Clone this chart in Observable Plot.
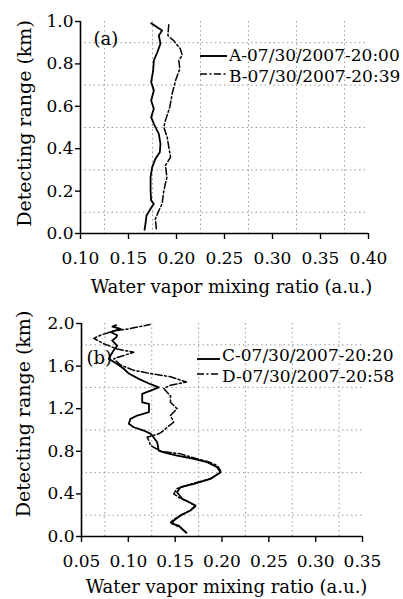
<!DOCTYPE html>
<html>
<head>
<meta charset="utf-8">
<script src="https://cdn.jsdelivr.net/npm/d3@7"></script>
<script src="https://cdn.jsdelivr.net/npm/@observablehq/plot@0.6"></script>
<style>
  body { margin: 0; background: #fff; }
  #chart svg { display: block; }
</style>
</head>
<body>
<div id="chart"></div>
<script>
// ---------- Panel (a) data ----------
const heightA = [0.017,0.046,0.085,0.117,0.140,0.156,0.203,0.266,0.313,0.352,0.383,0.423,0.470,0.517,0.549,0.588,0.627,0.675,0.714,0.769,0.816,0.855,0.895,0.934,0.958,0.992];
const ratioA  = [0.1667,0.1677,0.1688,0.1730,0.1764,0.1736,0.1730,0.1730,0.1747,0.1780,0.1826,0.1833,0.1816,0.1764,0.1736,0.1764,0.1736,0.1764,0.1736,0.1757,0.1764,0.1800,0.1833,0.1816,0.1850,0.1736];
const heightB = [0.022,0.069,0.108,0.140,0.203,0.266,0.321,0.360,0.407,0.454,0.501,0.533,0.596,0.659,0.722,0.777,0.816,0.840,0.871,0.910,0.934,0.989];
const ratioB  = [0.179,0.178,0.1816,0.185,0.1868,0.190,0.1885,0.1938,0.192,0.1903,0.1868,0.1885,0.193,0.1955,0.199,0.2035,0.2024,0.206,0.204,0.197,0.191,0.192];
const labelA = "A-07/30/2007-20:00";
const labelB = "B-07/30/2007-20:39";
const xTicksA = [0.10,0.15,0.20,0.25,0.30,0.35,0.40];
const yTicksA = [0.0,0.2,0.4,0.6,0.8,1.0];
const gridXA = [0.125,0.175,0.225,0.275,0.325,0.375];
const gridYA = [0.1,0.3,0.5,0.7,0.9];

// ---------- Panel (b) data ----------
const heightC = [0.035,0.072,0.103,0.120,0.150,0.197,0.244,0.291,0.354,0.416,0.463,0.495,0.541,0.604,0.650,0.698,0.730,0.760,0.790,0.807,0.885,0.930,0.964,0.995,1.026,1.058,1.105,1.136,1.167,1.245,1.260,1.340,1.370,1.400,1.430,1.480,1.530,1.575,1.620,1.670,1.700,1.750,1.790,1.820,1.840,1.870,1.890,1.920,1.950,1.970,1.985];
const ratioC  = [0.162,0.1575,0.1538,0.1468,0.1485,0.1557,0.1663,0.1717,0.1575,0.152,0.1557,0.170,0.1877,0.1984,0.1948,0.1841,0.170,0.152,0.1378,0.1325,0.1308,0.127,0.124,0.1165,0.1058,0.1005,0.1023,0.1095,0.122,0.122,0.1148,0.1148,0.1237,0.1325,0.1237,0.1112,0.1005,0.0952,0.0881,0.0792,0.081,0.0845,0.0881,0.0850,0.0828,0.0870,0.0881,0.081,0.0917,0.0830,0.0870];
const heightD = [0.040,0.080,0.130,0.150,0.200,0.244,0.280,0.320,0.360,0.400,0.450,0.495,0.541,0.600,0.620,0.667,0.700,0.730,0.776,0.800,0.854,0.900,0.932,0.964,0.995,1.026,1.073,1.136,1.200,1.260,1.320,1.390,1.420,1.450,1.500,1.530,1.560,1.610,1.670,1.700,1.730,1.760,1.810,1.860,1.890,1.930,1.950,1.990];
const ratioD  = [0.161,0.156,0.145,0.147,0.156,0.166,0.1717,0.166,0.155,0.1485,0.152,0.168,0.187,0.1984,0.1984,0.1948,0.186,0.173,0.1557,0.135,0.1237,0.122,0.120,0.1325,0.1378,0.1414,0.1485,0.145,0.152,0.145,0.145,0.1378,0.145,0.162,0.145,0.1237,0.1058,0.0917,0.0845,0.0952,0.1058,0.0881,0.0738,0.0632,0.0703,0.0845,0.1005,0.1230];
const labelC = "C-07/30/2007-20:20";
const labelD = "D-07/30/2007-20:58";
const xTicksB = [0.05,0.10,0.15,0.20,0.25,0.30,0.35];
const yTicksB = [0.0,0.4,0.8,1.2,1.6,2.0];
const gridXB = [0.075,0.125,0.175,0.225,0.275,0.325];
const gridYB = [0.2,0.6,1.0,1.4,1.8];

const xTitle = "Water vapor mixing ratio (a.u.)";
const yTitle = "Detecting range (km)";

const FONT = "'DejaVu Serif', serif";
const INK = "#000";
const DASH = "7,2.5,2,2.5";

const toRows = (hs, vs) => hs.map((h, i) => ({h, v: vs[i]}));

function panel(cfg) {
  const s1 = toRows(cfg.h1, cfg.v1);
  const s2 = toRows(cfg.h2, cfg.v2);
  const svg = Plot.plot({
    width: 403,
    height: cfg.height,
    marginLeft: cfg.ml, marginRight: cfg.mr, marginTop: cfg.mt, marginBottom: cfg.mb,
    style: {fontFamily: FONT, fontSize: "17px", color: INK, background: "#fff", overflow: "visible"},
    x: {domain: cfg.xDomain, label: null},
    y: {domain: cfg.yDomain, label: null},
    marks: [
      Plot.ruleX(cfg.gridX, {stroke: "#9a9a9a", strokeWidth: 1, strokeDasharray: "1.5,3"}),
      Plot.ruleY(cfg.gridY, {stroke: "#9a9a9a", strokeWidth: 1, strokeDasharray: "1.5,3"}),
      Plot.axisX({ticks: cfg.xTicks, tickFormat: d3.format(".2f"), tickSize: 6, tickPadding: 12,
                  fontSize: 17, label: null, stroke: INK, strokeWidth: 1.4}),
      Plot.axisY({ticks: cfg.yTicks, tickFormat: d3.format(".1f"), tickSize: 5, tickPadding: 2,
                  fontSize: 17, label: null, stroke: INK, strokeWidth: 1.4}),
      Plot.ruleX([cfg.xDomain[0]], {stroke: INK, strokeWidth: 1.6}),
      Plot.ruleY([cfg.yDomain[0]], {stroke: INK, strokeWidth: 1.6}),
      Plot.line(s2, {x: "v", y: "h", stroke: INK, strokeWidth: 1.5, strokeDasharray: DASH}),
      Plot.line(s1, {x: "v", y: "h", stroke: INK, strokeWidth: 1.8}),
      Plot.text([cfg.tag], {text: d => d, frameAnchor: "top-left", textAnchor: "start", lineAnchor: "middle",
                            dx: cfg.tagDx, dy: cfg.tagDy, fontSize: 18, fill: INK}),
      Plot.text([xTitle], {text: d => d, frameAnchor: "bottom", textAnchor: "middle", lineAnchor: "middle",
                           dx: cfg.xtDx, dy: cfg.xtDy, fontSize: 18, fill: INK}),
      Plot.text([yTitle], {text: d => d, frameAnchor: "left", textAnchor: "middle", lineAnchor: "middle",
                           rotate: -90, dx: cfg.ytDx, dy: cfg.ytDy, fontSize: 19, fill: INK})
    ]
  });
  // legend
  const g = d3.select(svg).append("g")
    .attr("font-family", FONT).attr("font-size", 17).attr("fill", INK)
    .attr("text-anchor", "start");
  cfg.legend.forEach((item, i) => {
    g.append("line")
      .attr("x1", cfg.legX0).attr("x2", cfg.legX1)
      .attr("y1", cfg.legLineY[i]).attr("y2", cfg.legLineY[i])
      .attr("stroke", INK).attr("stroke-width", item.dash ? 1.6 : 1.9)
      .attr("stroke-dasharray", item.dash ? DASH : null);
    g.append("text")
      .attr("x", cfg.legX1 + 2).attr("y", cfg.legTextY[i])
      .attr("dy", "0.35em")
      .attr("text-anchor", "start")
      .text(item.label);
  });
  return svg;
}

const root = document.getElementById("chart");
root.appendChild(panel({
  height: 300, ml: 80, mr: 35, mt: 21, mb: 67,
  xDomain: [0.10, 0.40], yDomain: [0, 1],
  xTicks: xTicksA, yTicks: yTicksA, gridX: gridXA, gridY: gridYA,
  h1: heightA, v1: ratioA, h2: heightB, v2: ratioB,
  tag: "(a)", tagDx: 13, tagDy: 18,
  xtDx: 7, xtDy: 54, ytDx: -56, ytDy: -4,
  legend: [{label: labelA, dash: false}, {label: labelB, dash: true}],
  legX0: 200, legX1: 227, legLineY: [56, 74], legTextY: [55, 76]
}));
root.appendChild(panel({
  height: 299, ml: 81, mr: 41, mt: 23, mb: 63,
  xDomain: [0.05, 0.35], yDomain: [0, 2],
  xTicks: xTicksB, yTicks: yTicksB, gridX: gridXB, gridY: gridYB,
  h1: heightC, v1: ratioC, h2: heightD, v2: ratioD,
  tag: "(b)", tagDx: 5, tagDy: 35,
  xtDx: 4.5, xtDy: 51, ytDx: -57.5, ytDy: -16,
  legend: [{label: labelC, dash: false}, {label: labelD, dash: true}],
  legX0: 197, legX1: 220, legLineY: [59, 74], legTextY: [55, 76]
}));
</script>
</body>
</html>
